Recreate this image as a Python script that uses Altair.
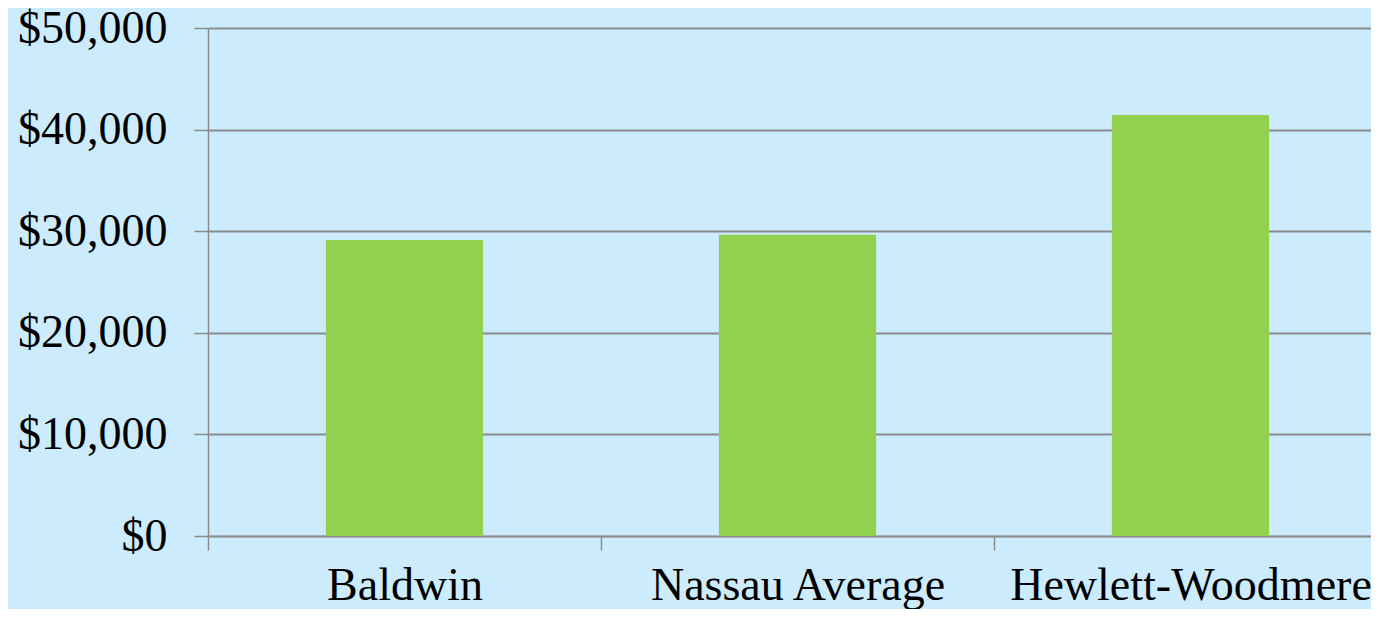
import altair as alt
import pandas as pd

categories = ["Baldwin", "Nassau Average", "Hewlett-Woodmere"]
values = [29130, 29650, 41440]
y_ticks = [0, 10000, 20000, 30000, 40000, 50000]

df = pd.DataFrame({"area": categories, "value": values})

GRAY = "#8C8C8C"
FONT = "Liberation Serif"

chart = (
    alt.Chart(df)
    .mark_bar(color="#92D050", width=alt.RelativeBandSize(0.4))
    .encode(
        x=alt.X(
            "area:N",
            sort=categories,
            title=None,
            scale=alt.Scale(range=[0, 1179], paddingInner=0, paddingOuter=0),
            axis=alt.Axis(
                labelAngle=0,
                tickBand="extent",
                labelFont=FONT,
                labelFontSize=46,
                labelColor="black",
                labelPadding=13,
                labelLimit=0,
                tickSize=14,
                tickColor=GRAY,
                tickWidth=1.5,
                domainColor=GRAY,
                domainWidth=1.5,
                grid=False,
            ),
        ),
        y=alt.Y(
            "value:Q",
            title=None,
            scale=alt.Scale(domain=[0, 50000], nice=False),
            axis=alt.Axis(
                values=y_ticks,
                format="$,.0f",
                labelFont=FONT,
                labelFontSize=46,
                labelColor="black",
                labelPadding=27,
                tickSize=14,
                tickColor=GRAY,
                tickWidth=1.5,
                domainColor=GRAY,
                domainWidth=1.5,
                grid=True,
                gridColor=GRAY,
                gridWidth=1.8,
            ),
        ),
    )
    .properties(
        width=1163,
        height=508,
        autosize=alt.AutoSizeParams(type="none"),
        padding={"left": 200, "top": 20, "right": 0, "bottom": 73},
        background="#CCEBFC",
    )
    .configure_view(stroke=None)
)

chart.save("out.html", embed_options={"renderer": "svg", "actions": False})
